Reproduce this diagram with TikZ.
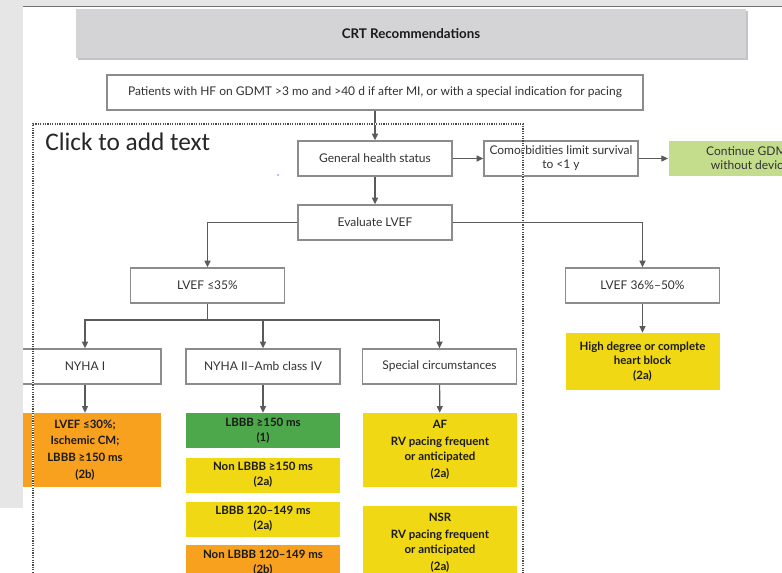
\documentclass[tikz,border=0pt]{standalone}
\usepackage{fontspec}
\setmainfont{Lato}
\newfontfamily\slidefont{Carlito}
\usetikzlibrary{arrows.meta}
\definecolor{uigray}{RGB}{230,230,230}
\definecolor{uiline}{RGB}{112,112,112}
\definecolor{titlegray}{RGB}{212,212,214}
\definecolor{titleshade}{RGB}{196,196,198}
\definecolor{boxline}{RGB}{140,140,140}
\definecolor{boxtext}{RGB}{50,50,50}
\definecolor{arrline}{RGB}{90,90,90}
\definecolor{recyellow}{RGB}{240,216,20}
\definecolor{recorange}{RGB}{247,161,31}
\definecolor{recgreen}{RGB}{76,168,74}
\definecolor{paleGreen}{RGB}{196,221,140}

\begin{document}
\begin{tikzpicture}[x=0.75pt,y=0.75pt,yscale=-1,xscale=1,
  box/.style={draw=boxline, line width=1pt, fill=white, text=boxtext, font=\fontsize{9}{10.5}\selectfont, minimum width=115.5pt, minimum height=26.25pt, inner sep=1pt, align=center},
  rec/.style={fill=#1, draw=none, text=black!90, font=\bfseries\fontsize{8.6}{11}\selectfont, minimum width=115.5pt, minimum height=26.25pt, inner sep=1pt, align=center},
  arr/.style={draw=arrline, line width=0.9pt, -{Triangle[length=5pt,width=4.5pt]}},
  link/.style={draw=arrline, line width=0.9pt}
]
\path[use as bounding box] (0,0) rectangle (782,572);
\clip (0,0) rectangle (782,572);

% slide
\fill[white] (23,7) rectangle (782,572);
\fill[titleshade] (78,11) rectangle (748,60);
\node[fill=titlegray, minimum width=502.5pt, minimum height=36.75pt, inner sep=0pt, text=black!90, font=\bfseries\fontsize{10}{12}\selectfont] (title) at (411,33.5) {CRT Recommendations};

% Text Node
\node[box, minimum width=402pt] (pat) at (375,92.5) {Patients with HF on GDMT >3 mo and >40 d if after MI, or with a special indication for pacing};
\node[box] (ghs) at (375,158.5) {General health status};
\node[box] (comorb) at (561,158.5) {Comorbidities limit survival\\to <1 y};
\node[box, draw=none, fill=paleGreen, minimum width=122pt] (cont) at (750,158.5) {Continue GDMT\\without device};
\node[box] (eval) at (375,222.5) {Evaluate LVEF};
\node[box] (lv35) at (207.5,285.5) {LVEF ≤35\%};
\node[box] (lv36) at (642.5,285.5) {LVEF 36\%--50\%};
\node[rec=recyellow, minimum height=42.75pt] (heart) at (642.5,361.5) {High degree or complete\\heart block\\(2a)};

\node[box, minimum width=114pt] (nyha1) at (85,366.5) {NYHA I};
\node[box] (nyha2) at (263,366.5) {NYHA II--Amb class IV};
\node[box] (spec) at (439.5,366.5) {Special circumstances};

\node[rec=recorange, minimum width=114pt, minimum height=55.5pt, font=\bfseries\fontsize{8.6}{12.5}\selectfont] (lv30) at (85,450) {LVEF ≤30\%;\\Ischemic CM;\\LBBB ≥150 ms\\(2b)};
\node[rec=recgreen] (lb1) at (263,430.5) {LBBB ≥150 ms\\(1)};
\node[rec=recyellow] (lb2) at (263,475) {Non LBBB ≥150 ms\\(2a)};
\node[rec=recyellow] (lb3) at (263,519) {LBBB 120--149 ms\\(2a)};
\node[rec=recorange] (lb4) at (263,562.5) {Non LBBB 120--149 ms\\(2b)};
\node[rec=recyellow, minimum height=55.5pt] (af) at (440,450) {AF\\[2pt]RV pacing frequent\\or anticipated\\[2pt](2a)};
\node[rec=recyellow, minimum height=55.5pt] (nsr) at (440,543) {NSR\\[2pt]RV pacing frequent\\or anticipated\\[2pt](2a)};

%Straight Lines
\draw[arr] (pat) -- (ghs);
\draw[arr] (ghs) -- (comorb);
\draw[arr] (comorb) -- (cont);
\draw[arr] (ghs) -- (eval);
\draw[arr] (eval.west) -| (lv35.north);
\draw[arr] (eval.east) -| (lv36.north);
\draw[arr] (lv36) -- (heart);
\coordinate (fork) at (207.5,320);
\draw[link] (lv35) -- (fork);
\draw[arr] (fork) -| (nyha1.north);
\draw[arr] (fork) -| (nyha2.north);
\draw[arr] (fork) -| (spec.north);
\draw[arr] (nyha1) -- (lv30);
\draw[arr] (nyha2) -- (lb1);
\draw[arr] (spec) -- (af);

% placeholder
\draw[white, line width=0.9pt] (33,580) -- (33,124) -- (523,124) -- (523,580);
\draw[black!70, line width=0.9pt, dash pattern={on 0.9pt off 0.9pt}] (33,580) -- (33,124) -- (523,124) -- (523,580);
\node[anchor=north west, inner sep=0pt, text=black!85, font=\slidefont\fontsize{19}{22}\selectfont] (hint) at (45,133) {Click to add text};
\fill[blue!35] (278,175) circle (1.2);

% window
\fill[uigray] (0,0) rectangle (782,6);
\fill[uigray] (0,0) rectangle (23,508);
\draw[uiline, line width=1.1pt] (23,6.5) -- (782,6.5);

\end{tikzpicture}
\end{document}
